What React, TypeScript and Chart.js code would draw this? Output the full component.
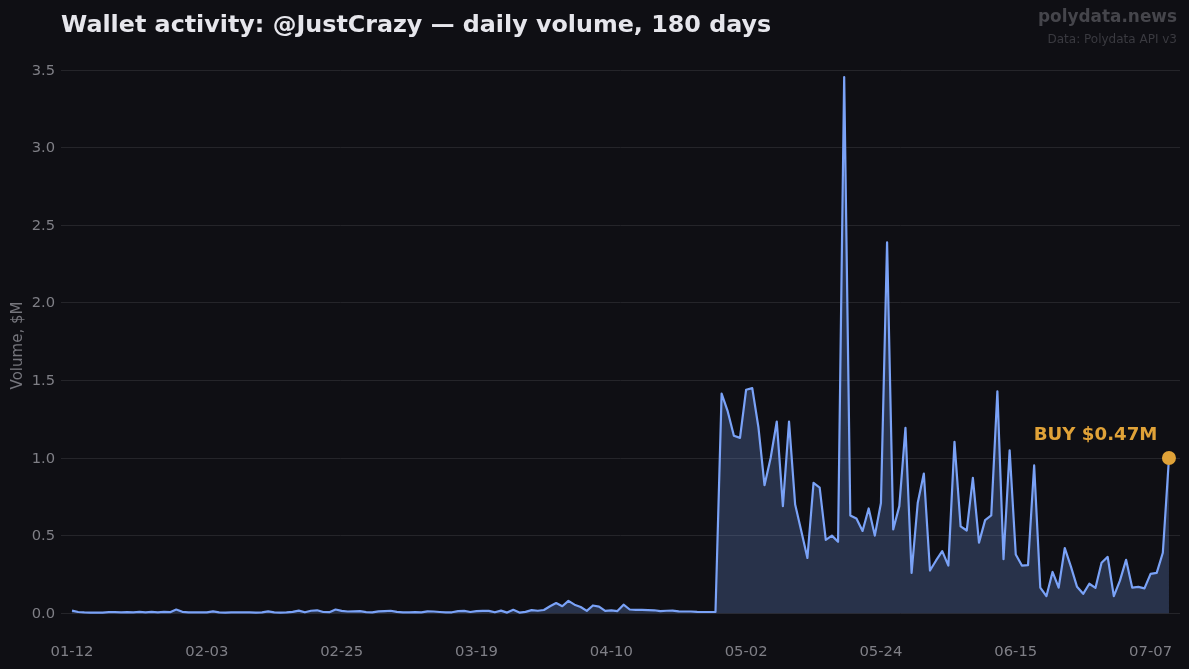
import React, { useEffect, useRef } from "react";
import { Chart, registerables } from "chart.js";

Chart.register(...registerables);

const titleText = "Wallet activity: @JustCrazy — daily volume, 180 days";
const brandText = "polydata.news";
const sourceText = "Data: Polydata API v3";
const yAxisTitle = "Volume, $M";
const lastLabel = "BUY $0.47M";

const xTickIndex = [0, 22, 44, 66, 88, 110, 132, 154, 176];
const xTickLabels = ["01-12", "02-03", "02-25", "03-19", "04-10", "05-02", "05-24", "06-15", "07-07"];
const yTicks = [0, 0.5, 1, 1.5, 2, 2.5, 3, 3.5];

const volumeQuiet = [
  0.017, 0.008, 0.005, 0.004, 0.004, 0.004, 0.007, 0.007, 0.006, 0.007,
  0.005, 0.009, 0.005, 0.009, 0.006, 0.009, 0.007, 0.024,
  0.009, 0.006, 0.005, 0.006, 0.005, 0.012, 0.005, 0.004, 0.005, 0.005,
  0.006, 0.006, 0.004, 0.005, 0.012, 0.005, 0.004, 0.005, 0.009, 0.017,
  0.006, 0.016, 0.019, 0.008, 0.007, 0.024, 0.015, 0.011, 0.012, 0.013,
];
const volumeBuild = [
  0.007, 0.005, 0.012, 0.014, 0.016, 0.009, 0.006, 0.005, 0.007, 0.006,
  0.012, 0.011, 0.008, 0.005, 0.006, 0.014, 0.015, 0.008, 0.014, 0.015,
  0.015, 0.006, 0.017, 0.004, 0.022, 0.004, 0.009, 0.02, 0.016, 0.021,
  0.045, 0.066, 0.045, 0.08, 0.055, 0.04, 0.015, 0.05, 0.043, 0.015,
  0.018, 0.014, 0.055, 0.024, 0.022, 0.021, 0.02, 0.019, 0.013, 0.016,
  0.017, 0.012, 0.011, 0.011, 0.009, 0.008, 0.008, 0.008,
];
const volumeActive = [
  1.415, 1.3, 1.144, 1.13, 1.44, 1.45, 1.2, 0.825, 1.0, 1.235,
  0.69, 1.235, 0.7, 0.53, 0.356, 0.84, 0.81, 0.473, 0.5, 0.46,
  3.455, 0.63, 0.61, 0.53, 0.675, 0.5, 0.71, 2.39, 0.54, 0.69,
  1.195, 0.26, 0.71, 0.9, 0.275, 0.34, 0.4, 0.307, 1.104, 0.56,
  0.533, 0.872, 0.455, 0.6, 0.63, 1.43, 0.348, 1.05, 0.378, 0.307,
  0.31, 0.952, 0.165, 0.11, 0.266, 0.165, 0.42, 0.3, 0.17, 0.125,
  0.19, 0.163, 0.325, 0.363, 0.11, 0.21, 0.344, 0.165, 0.17, 0.16,
  0.254, 0.26, 0.39, 1.0,
];
const volume = [...volumeQuiet, ...volumeBuild, ...volumeActive];

const BG = "#0f0f14";
const FONT = "'DejaVu Sans'";
const TICK_COLOR = "#7f7f86";

const overlay = {
  id: "overlay",
  afterDatasetsDraw(chart: any) {
    const { ctx, scales } = chart;
    ctx.save();
    ctx.textBaseline = "middle";
    ctx.textAlign = "left";
    ctx.fillStyle = "#e6e6ec";
    ctx.font = `bold 23.8px ${FONT}`;
    ctx.fillText(titleText, 61, 26);
    ctx.textAlign = "right";
    ctx.fillStyle = "#45454b";
    ctx.font = `bold 16.9px ${FONT}`;
    ctx.fillText(brandText, 1177, 17.5);
    ctx.fillStyle = "#3a3a40";
    ctx.font = `12px ${FONT}`;
    ctx.fillText(sourceText, 1177, 39.5);
    ctx.fillStyle = TICK_COLOR;
    ctx.font = `14.7px ${FONT}`;
    for (const t of yTicks) {
      ctx.fillText(t.toFixed(1), 55, scales.y.getPixelForValue(t) + 0.8);
    }
    ctx.fillStyle = "#e0a238";
    ctx.font = `bold 18.2px ${FONT}`;
    const lastIdx = volume.length - 1;
    ctx.fillText(lastLabel, scales.x.getPixelForValue(lastIdx) - 11.5, scales.y.getPixelForValue(volume[lastIdx]) - 22.5);
    ctx.restore();
  },
};

export default function App() {
  const ref = useRef<HTMLCanvasElement>(null);
  useEffect(() => {
    const chart = new Chart(ref.current as HTMLCanvasElement, {
      type: "line",
      data: {
        datasets: [
          {
            data: [{ x: volume.length - 1, y: volume[volume.length - 1] }],
            pointRadius: 7,
            pointBackgroundColor: "#e0a238",
            pointBorderWidth: 0,
            showLine: false,
            order: 0,
          },
          {
            data: volume.map((y, x) => ({ x, y })),
            borderColor: "#7aa2f7",
            borderWidth: 2.2,
            borderJoinStyle: "round",
            backgroundColor: "rgba(122,162,247,0.24)",
            fill: "origin",
            pointRadius: 0,
            tension: 0,
            order: 1,
          },
        ],
      },
      options: {
        responsive: false,
        animation: false,
        layout: { padding: { top: 51, right: 9, left: 0, bottom: 0 } },
        plugins: { legend: { display: false }, tooltip: { enabled: false } },
        scales: {
          x: {
            type: "linear",
            min: -1.8,
            max: 180.8,
            border: { display: false },
            grid: { display: false, drawTicks: false },
            afterBuildTicks: (s: any) => {
              s.ticks = xTickIndex.map((value) => ({ value }));
            },
            afterFit: (s: any) => {
              s.height = 29;
            },
            ticks: {
              autoSkip: false,
              maxRotation: 0,
              padding: 3,
              color: TICK_COLOR,
              font: { family: FONT, size: 14.8 },
              callback: (v: any) => xTickLabels[xTickIndex.indexOf(v)],
            },
          },
          y: {
            type: "linear",
            min: -0.1725,
            max: 3.6225,
            border: { display: false },
            grid: { color: "#25252a", lineWidth: 1, drawTicks: false },
            afterBuildTicks: (s: any) => {
              s.ticks = yTicks.map((value) => ({ value }));
            },
            afterFit: (s: any) => {
              s.width = 61;
            },
            title: {
              display: true,
              text: yAxisTitle,
              color: "#75757c",
              font: { family: FONT, size: 15, weight: "normal" },
              padding: { top: 9, bottom: 0 },
            },
            ticks: { display: false },
          },
        },
      },
      plugins: [overlay],
    } as any);
    return () => chart.destroy();
  }, []);
  return (
    <div style={{ position: "fixed", left: 0, top: 0, width: 1189, height: 669, background: BG }}>
      <canvas ref={ref} width={1189} height={669} style={{ display: "block", width: 1189, height: 669 }} />
    </div>
  );
}
